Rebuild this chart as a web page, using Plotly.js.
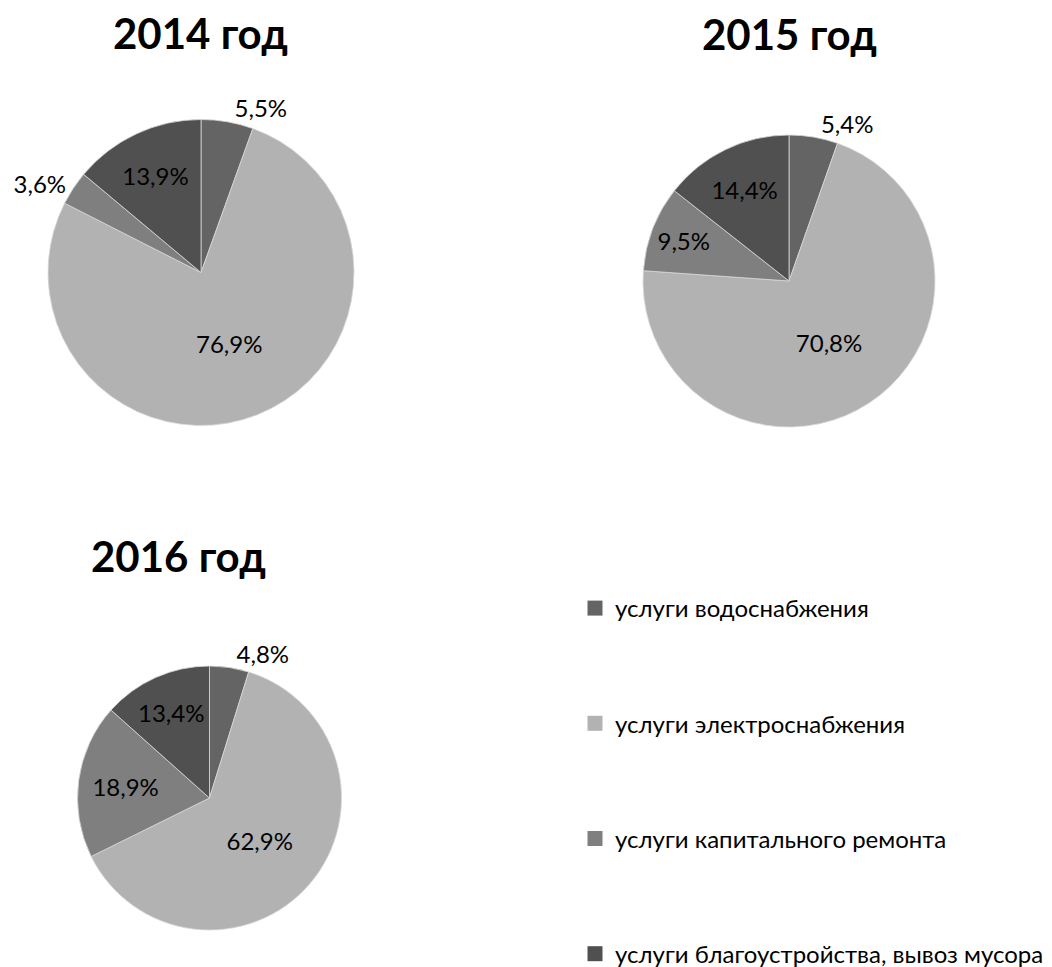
<!DOCTYPE html>
<html><head><meta charset="utf-8">
<script src="https://cdn.plot.ly/plotly-3.0.1.min.js"></script>
<style>body{margin:0;background:#fff}#chart{width:1052px;height:967px}</style>
</head><body><div id="chart"></div>
<script>
// ---- data ----
const categories = ['услуги водоснабжения', 'услуги электроснабжения', 'услуги капитального ремонта', 'услуги благоустройства, вывоз мусора'];
const years = ['2014 год', '2015 год', '2016 год'];
const values2014 = [5.5, 76.9, 3.6, 13.9];
const values2015 = [5.4, 70.8, 9.5, 14.4];
const values2016 = [4.8, 62.9, 18.9, 13.4];
const colors = ['#646464', '#b2b2b2', '#7f7f7f', '#505050'];

// ---- styling ----
const FONT = 'Lato, "Open Sans", sans-serif';
const W = 1052, H = 967;
function dom(l, r, t, b) { return {x: [l / W, r / W], y: [1 - b / H, 1 - t / H]}; }

function pie(values, domain, textpos) {
  return {
    type: 'pie', labels: categories, values: values, sort: false,
    direction: 'clockwise', rotation: 0, domain: domain,
    marker: {colors: colors, line: {color: '#d8d8d8', width: 0.8}},
    texttemplate: '%{value:.1f}%', textposition: textpos,
    insidetextorientation: 'horizontal',
    textfont: {family: FONT, size: 24, color: '#000'},
    insidetextfont: {family: FONT, size: 24, color: '#000'},
    outsidetextfont: {family: FONT, size: 24, color: '#000'},
    showlegend: false, hoverinfo: 'label+percent'
  };
}

const traces = [
  pie(values2014, dom(48, 354, 119.5, 425.5), ['outside', 'inside', 'outside', 'inside']),
  pie(values2015, dom(643, 935, 135, 427), ['outside', 'inside', 'inside', 'inside']),
  pie(values2016, dom(77.5, 341.5, 666, 930), ['outside', 'inside', 'inside', 'inside'])
];

categories.forEach((c, i) => {
  traces.push({
    type: 'scatter', mode: 'markers', x: [null], y: [null], name: c,
    legendgroup: 'g' + i, hoverinfo: 'skip',
    marker: {symbol: 'square', size: 15, color: colors[i]}
  });
});

const titlePos = [[200, 33], [789, 34], [178, 556]];
const annotations = years.map((t, i) => ({
  text: '<b>' + t + '</b>', showarrow: false, xref: 'paper', yref: 'paper',
  x: titlePos[i][0] / W, y: 1 - titlePos[i][1] / H, xanchor: 'center', yanchor: 'middle',
  font: {family: FONT, size: 42, color: '#000'}
}));

const layout = {
  width: W, height: H, margin: {l: 0, r: 0, t: 0, b: 0, autoexpand: false},
  paper_bgcolor: '#fff', plot_bgcolor: '#fff',
  separators: ', ',
  font: {family: FONT, color: '#000'},
  xaxis: {visible: false}, yaxis: {visible: false},
  annotations: annotations,
  showlegend: true,
  legend: {
    x: 575 / W, xanchor: 'left', y: 1 - 586 / H, yanchor: 'top',
    traceorder: 'grouped', tracegroupgap: 81,
    font: {family: FONT, size: 24, color: '#000'},
    bgcolor: 'rgba(0,0,0,0)', itemclick: false, itemdoubleclick: false
  }
};

Plotly.newPlot('chart', traces, layout, {displayModeBar: false, staticPlot: true});
</script>
</body></html>
